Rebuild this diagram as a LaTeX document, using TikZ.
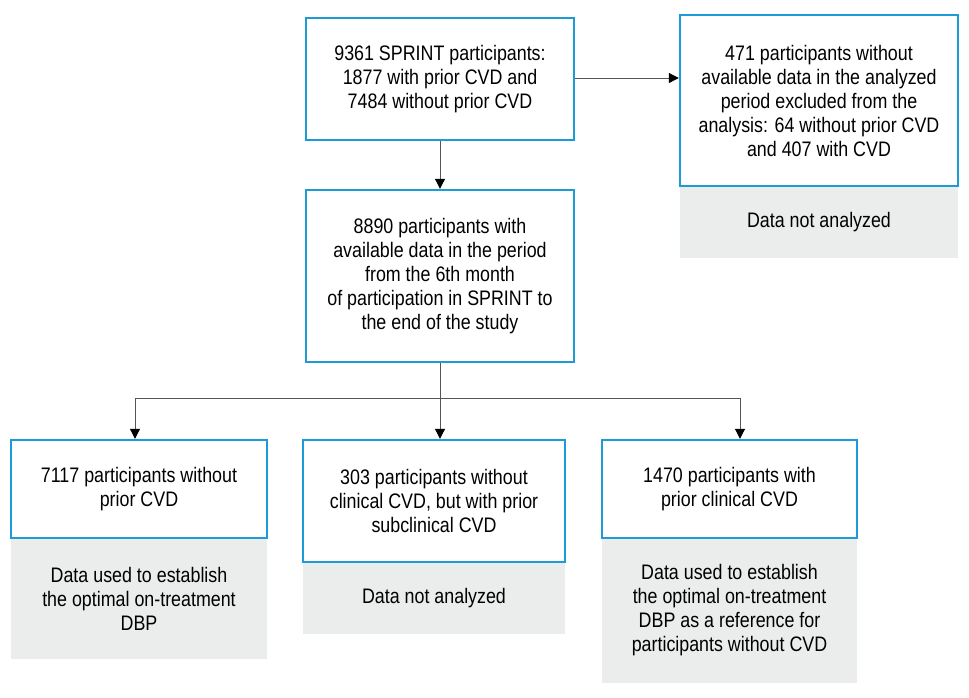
\documentclass[tikz,border=0pt]{standalone}
\usepackage{fontspec}
\setmainfont[FakeStretch=0.85]{Liberation Sans}
\usetikzlibrary{arrows.meta,calc}
\definecolor{boxblue}{HTML}{1E9BD7}
\definecolor{boxgray}{HTML}{EBEDED}
\definecolor{linegray}{HTML}{555555}
\begin{document}
\begin{tikzpicture}[x=1pt,y=-1pt,
  every node/.style={font=\fontsize{21}{24}\selectfont, align=center, inner sep=0pt, text=black},
  bluebox/.style={draw=boxblue, line width=2.4pt, fill=white, rectangle},
  graybox/.style={fill=boxgray, draw=none, rectangle},
  conn/.style={draw=linegray, line width=1pt, -{Triangle[width=10pt,length=10pt,fill=black,color=black]}}]
\useasboundingbox (0,0) rectangle (969,697);
% gray result panels
\node[graybox, minimum width=278pt, minimum height=72pt] (exg) at (819,222) {Data not analyzed};
\node[graybox, minimum width=256pt, minimum height=121pt] (blg) at (139,598.5) {Data used to establish\\the optimal on-treatment\\DBP};
\node[graybox, minimum width=262pt, minimum height=72pt] (bmg) at (434,598) {Data not analyzed};
\node[graybox, minimum width=255pt, minimum height=145pt] (brg) at (729.5,610.5) {Data used to establish\\the optimal on-treatment\\DBP as a reference for\\participants without CVD};
% blue boxes
\node[bluebox, minimum width=268pt, minimum height=122pt] (b1) at (440,79) {9361 SPRINT participants:\\1877 with prior CVD and\\7484 without prior CVD};
\node[bluebox, minimum width=278pt, minimum height=171pt] (ex) at (819,100.5) {471 participants without\\available data in the analyzed\\period excluded from the\\analysis: 64 without prior CVD\\and 407 with CVD};
\node[bluebox, minimum width=268pt, minimum height=172pt] (b2) at (440,276) {8890 participants with\\available data in the period\\from the 6th month\\of participation in SPRINT to\\the end of the study};
\node[bluebox, minimum width=256pt, minimum height=98pt] (bl) at (139,489) {7117 participants without\\prior CVD};
\node[bluebox, minimum width=262pt, minimum height=122pt] (bm) at (434,501) {303 participants without\\clinical CVD, but with prior\\subclinical CVD};
\node[bluebox, minimum width=255pt, minimum height=98pt] (br) at (729.5,489) {1470 participants with\\prior clinical CVD};
% connectors
\coordinate (split) at (440,398);
\draw[conn] (b1.east |- 0,78) -- (ex.west |- 0,78);
\draw[conn] (b1.south) -- (b2.north);
\draw[draw=linegray, line width=1pt] (b2.south) -- (split);
\draw[conn] (split) -| ($(bl.north)+(-4,0)$);
\draw[conn] (split) -- (split |- bm.north);
\draw[conn] (split) -| ($(br.north)+(10.5,0)$);
\end{tikzpicture}
\end{document}
